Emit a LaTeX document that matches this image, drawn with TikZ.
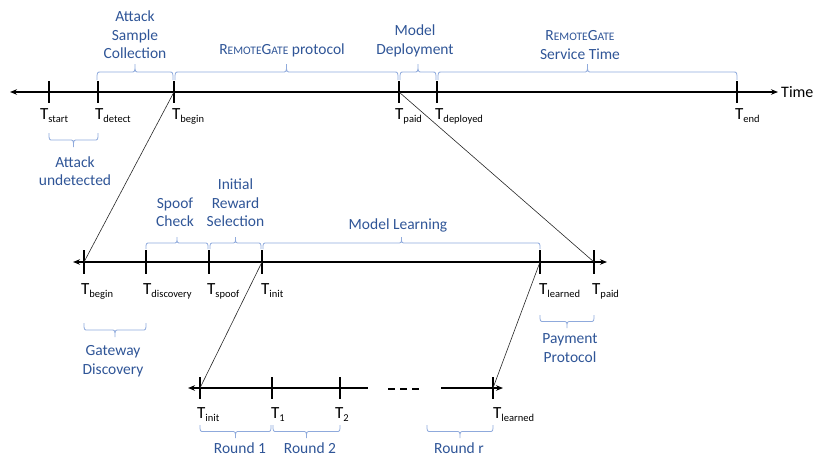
\documentclass[tikz,border=0pt]{standalone}
\usepackage{fontspec}
\setmainfont{Carlito}
\usetikzlibrary{arrows.meta}
\definecolor{txtblue}{HTML}{2F5597}
\definecolor{brblue}{HTML}{8FAADC}
\newcommand{\Tsub}[1]{{\fontsize{17}{17}\selectfont T}\raisebox{-3pt}{\fontsize{10.5}{10.5}\selectfont #1}}
\newcommand{\RGname}{R{\fontsize{11.5}{11.5}\selectfont EMOTE}G{\fontsize{11.5}{11.5}\selectfont ATE}}
% Office-style brace: #1 = x1, #2 = x2, #3 = base y, #4 = half height (negative: opens downward)
\newcommand{\offbrace}[4]{%
  \pgfmathsetmacro\bxm{(#1+#2)/2}%
  \draw[bracestyle] (#1,#3) .. controls (#1,{#3-#4}) .. ({#1+4},{#3-#4})
    -- ({\bxm-4},{#3-#4}) .. controls (\bxm,{#3-#4}) .. (\bxm,{#3-2*#4})
    .. controls (\bxm,{#3-#4}) .. ({\bxm+4},{#3-#4})
    -- ({#2-4},{#3-#4}) .. controls (#2,{#3-#4}) .. (#2,#3);}
\begin{document}
\begin{tikzpicture}[x=1pt,y=-1pt,
  tip/.tip={Stealth[length=7pt,width=5.5pt]},
  timeline/.style={line width=2pt},
  tickmark/.style={line width=1.3pt},
  link/.style={line width=0.6pt, black!85},
  bracestyle/.style={draw=brblue, line width=0.8pt},
  lbl/.style={font=\fontsize{15.5}{18.5}\selectfont, text=txtblue, align=center, inner sep=0pt},
  tlbl/.style={anchor=north west, inner sep=0pt},
]
\useasboundingbox (0,0) rectangle (830,467);

% ---------- timeline 1 ----------
\coordinate (L1l) at (10,92);
\coordinate (L1r) at (778,92);
\coordinate (a1) at (49,92);
\coordinate (a2) at (98,92);
\coordinate (a3) at (174,92);
\coordinate (a4) at (399,92);
\coordinate (a5) at (437,92);
\coordinate (a6) at (737,92);
\draw[timeline,tip-tip] (L1l) -- (L1r);
\foreach \c in {a1,a2,a3,a4,a5,a6} \draw[tickmark] (\c) ++(0,-11) -- ++(0,22);
\node[anchor=west,inner sep=0pt,font=\fontsize{16}{16}\selectfont] (time) at (781,92) {Time};

\node[tlbl] (ta1) at (40,108) {\Tsub{start}};
\node[tlbl] (ta2) at (95,108) {\Tsub{detect}};
\node[tlbl] (ta3) at (172,108) {\Tsub{begin}};
\node[tlbl] (ta4) at (395,108) {\Tsub{paid}};
\node[tlbl] (ta5) at (435,108) {\Tsub{deployed}};
\node[tlbl] (ta6) at (735,108) {\Tsub{end}};

\offbrace{97}{173}{80}{8}
\offbrace{175}{398}{80}{8}
\offbrace{400}{436}{80}{8}
\offbrace{438}{737}{80}{8}
\offbrace{49}{98}{133}{-7}

\node[lbl] (asc) at (135,35) {Attack\\Sample\\Collection};
\node[lbl] (rgp) at (282,50) {\RGname{} protocol};
\node[lbl] (md) at (415,41) {Model\\Deployment};
\node[lbl] (rgs) at (580,45) {\RGname\\Service Time};
\node[lbl] (au) at (75,171) {Attack\\undetected};

% ---------- timeline 2 ----------
\coordinate (L2l) at (73,262);
\coordinate (L2r) at (607,262);
\coordinate (b1) at (84,262);
\coordinate (b2) at (146,262);
\coordinate (b3) at (209,262);
\coordinate (b4) at (262,262);
\coordinate (b5) at (540,262);
\coordinate (b6) at (594,262);
\draw[timeline,tip-tip] (L2l) -- (L2r);
\foreach \c in {b1,b2,b3,b4,b5,b6} \draw[tickmark] (\c) ++(0,-12) -- ++(0,24);

\node[tlbl] (tb1) at (81,283) {\Tsub{begin}};
\node[tlbl] (tb2) at (143,283) {\Tsub{discovery}};
\node[tlbl] (tb3) at (207,283) {\Tsub{spoof}};
\node[tlbl] (tb4) at (261,283) {\Tsub{init}};
\node[tlbl] (tb5) at (539,283) {\Tsub{learned}};
\node[tlbl] (tb6) at (592,283) {\Tsub{paid}};

\offbrace{146}{208}{249}{6}
\offbrace{210}{261}{249}{6}
\offbrace{263}{540}{249}{6}
\offbrace{84}{146}{323}{-7}
\offbrace{540}{594}{315}{-6.5}

\node[lbl] (sc) at (175,212) {Spoof\\Check};
\node[lbl] (irs) at (235.5,203) {Initial\\Reward\\Selection};
\node[lbl] (ml) at (398,225) {Model Learning};
\node[lbl] (gd) at (113,361) {Gateway\\Discovery};
\node[lbl] (pp) at (570,348) {Payment\\Protocol};

% ---------- timeline 3 ----------
\coordinate (L3l) at (188,388);
\coordinate (L3m1) at (368,388);
\coordinate (D1) at (388,389);
\coordinate (D2) at (421,389);
\coordinate (L3m2) at (441,388);
\coordinate (L3r) at (503,388);
\coordinate (c1) at (200,388);
\coordinate (c2) at (272,388);
\coordinate (c3) at (340,388);
\coordinate (c4) at (493,388);
\draw[timeline,tip-] (L3l) -- (L3m1);
\draw[timeline,dash pattern=on 7pt off 5pt] (D1) -- (D2);
\draw[timeline,-tip] (L3m2) -- (L3r);
\foreach \c in {c1,c2,c3,c4} \draw[tickmark] (\c) ++(0,-11) -- ++(0,22);

\node[tlbl] (tc1) at (197,407) {\Tsub{init}};
\node[tlbl] (tc2) at (271,407) {\Tsub{1}};
\node[tlbl] (tc3) at (335,407) {\Tsub{2}};
\node[tlbl] (tc4) at (493,407) {\Tsub{learned}};

\offbrace{200}{271}{425}{-6.5}
\offbrace{273}{340}{425}{-6.5}
\offbrace{427}{493}{425}{-6.5}

\node[lbl] (r1) at (240,448) {Round 1};
\node[lbl] (r2) at (310,448) {Round 2};
\node[lbl] (rr) at (459,448) {Round r};

% ---------- zoom connectors ----------
\draw[link] (a3) -- (b1);
\draw[link] (a4) -- (b6);
\draw[link] (b4) -- (c1);
\draw[link] (b5) -- (c4);
\end{tikzpicture}
\end{document}
